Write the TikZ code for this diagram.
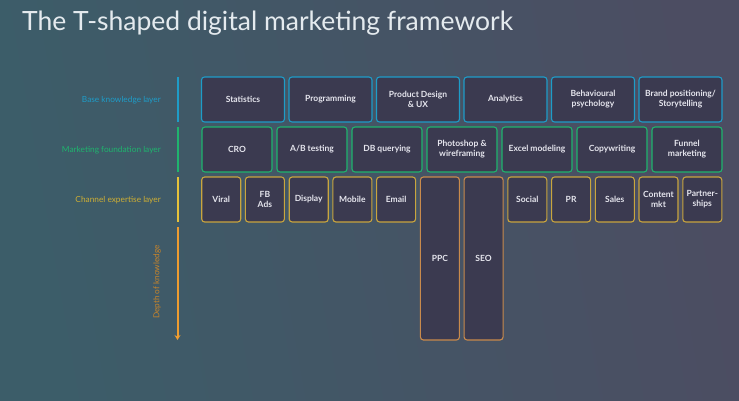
\documentclass[tikz,border=0pt]{standalone}
\usepackage{fontspec}
\setmainfont{Lato}
\usetikzlibrary{arrows.meta}
\definecolor{bgL}{HTML}{3C5D69}
\definecolor{bgR}{HTML}{4C4D62}
\definecolor{boxfill}{HTML}{3B3A50}
\definecolor{cblue}{HTML}{1E9CC8}
\definecolor{cgreen}{HTML}{1FB46E}
\definecolor{cyellow}{HTML}{C9A53E}
\definecolor{cyellowbar}{HTML}{E6C23A}
\definecolor{corange}{HTML}{C98A4C}
\definecolor{corangebar}{HTML}{EE9C30}
\definecolor{ctext}{HTML}{E6E6EE}
\definecolor{ctitle}{HTML}{E4EAEE}
\tikzset{
  cell/.style={draw, fill=boxfill, rounded corners=3pt, line width=1.1pt, inner sep=0pt,
    text=ctext, font=\fontsize{8.5}{10}\selectfont\bfseries, align=center},
  bluecell/.style={cell, draw=cblue, minimum width=83pt, minimum height=45pt},
  greencell/.style={cell, draw=cgreen, minimum width=70pt, minimum height=45pt},
  yellowcell/.style={cell, draw=cyellow, minimum width=39pt, minimum height=45pt},
  deepcell/.style={cell, draw=corange, minimum width=39pt, minimum height=163pt},
  layerlabel/.style={anchor=east, inner sep=0pt, font=\fontsize{8.3}{10}\selectfont},
  layerbar/.style={line width=2pt}
}
\begin{document}
\begin{tikzpicture}[x=1pt,y=-1pt]
\shade[left color=bgL, right color=bgR, shading angle=100] (0,0) rectangle (739,400);
\useasboundingbox (0,0) rectangle (739,400);
\node[anchor=base west, inner sep=0pt, text=ctitle, font=\fontsize{26.5}{30}\selectfont] (title) at (22,30) {The T-shaped digital marketing framework};

% layer labels
\node[layerlabel, text=cblue] (lbase) at (161,100) {Base knowledge layer};
\node[layerlabel, text=cgreen] (lmkt) at (161,150) {Marketing foundation layer};
\node[layerlabel, text=cyellowbar!90!black] (lchan) at (161,200) {Channel expertise layer};
\node[rotate=90, inner sep=0pt, text=corangebar!85!black, font=\fontsize{8.2}{9}\selectfont] (ldepth) at (157,282) {Depth of knowledge};

% bars
\coordinate (b1t) at (177.5,77); \coordinate (b1b) at (177.5,122);
\coordinate (b2t) at (177.5,127); \coordinate (b2b) at (177.5,172);
\coordinate (b3t) at (177.5,177); \coordinate (b3b) at (177.5,222);
\coordinate (b4t) at (177.5,227); \coordinate (b4b) at (177.5,340);
\draw[layerbar, draw=cblue] (b1t) -- (b1b);
\draw[layerbar, draw=cgreen] (b2t) -- (b2b);
\draw[layerbar, draw=cyellowbar] (b3t) -- (b3b);
\draw[layerbar, draw=corangebar, -{Stealth[length=5pt,width=6pt]}] (b4t) -- (b4b);

% row 1
\node[bluecell] (stat) at (243,99.5) {Statistics};
\node[bluecell] (prog) at (330.5,99.5) {Programming};
\node[bluecell] (pd) at (418,99.5) {Product Design\\\& UX};
\node[bluecell] (ana) at (505.5,99.5) {Analytics};
\node[bluecell] (beh) at (593,99.5) {Behavioural\\psychology};
\node[bluecell] (brand) at (680.5,99.5) {Brand positioning/\\Storytelling};

% row 2
\node[greencell] (cro) at (237,149.5) {CRO};
\node[greencell] (ab) at (312,149.5) {A/B testing};
\node[greencell] (db) at (387,149.5) {DB querying};
\node[greencell] (ps) at (462,149.5) {Photoshop \&\\wireframing};
\node[greencell] (xl) at (537,149.5) {Excel modeling};
\node[greencell] (copy) at (612,149.5) {Copywriting};
\node[greencell] (fun) at (687,149.5) {Funnel\\marketing};

% row 3
\node[yellowcell] (viral) at (221.2,199.5) {Viral};
\node[yellowcell] (fb) at (264.9,199.5) {FB\\Ads};
\node[yellowcell] (disp) at (308.7,199.5) {Display};
\node[yellowcell] (mob) at (352.4,199.5) {Mobile};
\node[yellowcell] (email) at (396.1,199.5) {Email};
\node[deepcell] (ppc) at (439.9,258.5) {PPC};
\node[deepcell] (seo) at (483.6,258.5) {SEO};
\node[yellowcell] (soc) at (527.3,199.5) {Social};
\node[yellowcell] (pr) at (571.1,199.5) {PR};
\node[yellowcell] (sales) at (614.8,199.5) {Sales};
\node[yellowcell] (cont) at (658.5,199.5) {Content\\mkt};
\node[yellowcell] (part) at (702.3,199.5) {Partner-\\ships};
\end{tikzpicture}
\end{document}
